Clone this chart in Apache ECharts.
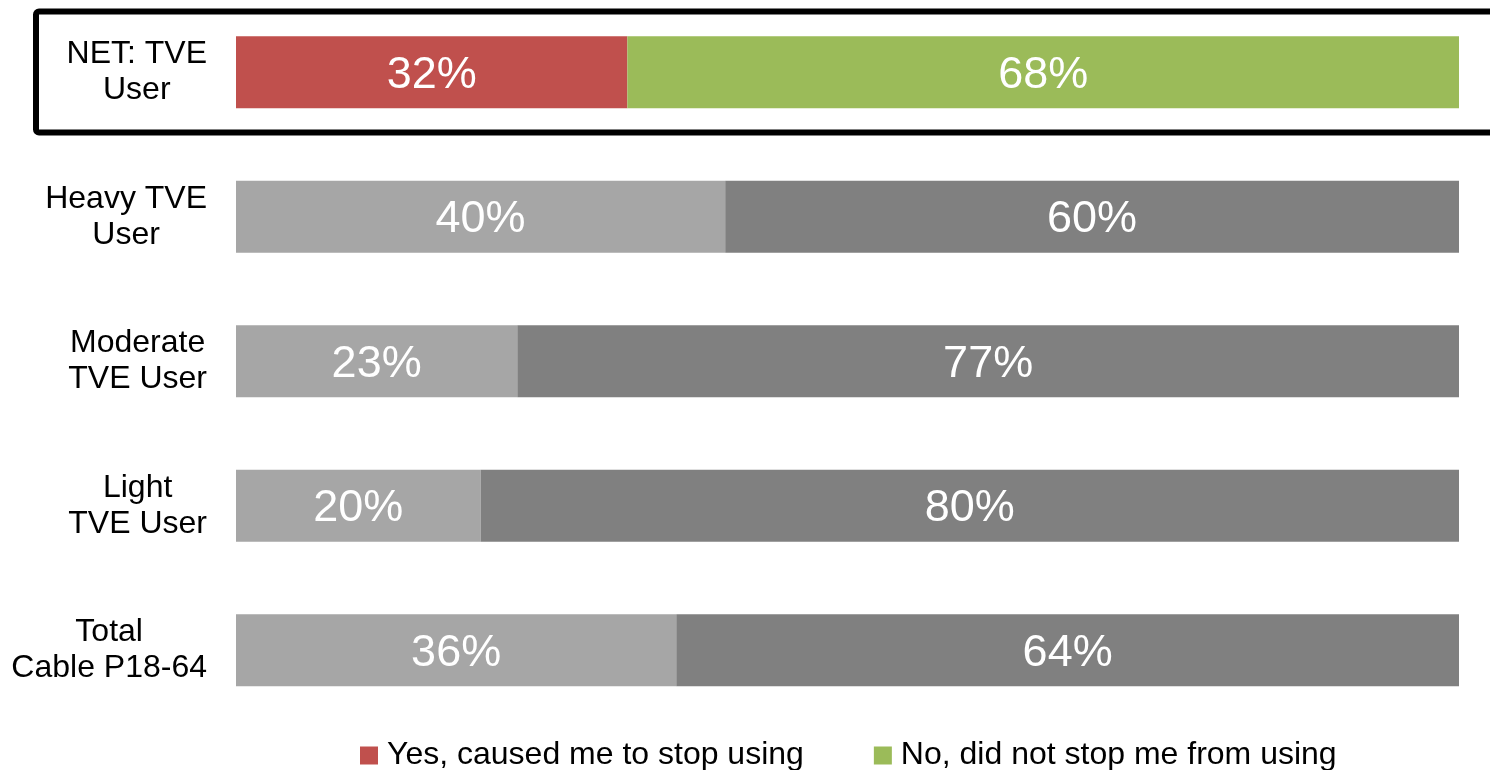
<!DOCTYPE html>
<html>
<head>
<meta charset="utf-8">
<title>TVE usage</title>
<script src="https://cdn.jsdelivr.net/npm/echarts@6/dist/echarts.min.js"></script>
<style>
  html, body { margin: 0; padding: 0; background: #fff; }
  #chart { width: 1490px; height: 770px; }
</style>
</head>
<body>
<div id="chart"></div>
<script>
// Segments of respondents, top to bottom
const categories = [
  'NET: TVE\nUser',
  'Heavy TVE\nUser',
  'Moderate\nTVE User',
  'Light\nTVE User',
  'Total\nCable P18-64'
];
const seriesNames = ['Yes, caused me to stop using', 'No, did not stop me from using'];
const yesValues = [32, 40, 23, 20, 36];
const noValues = [68, 60, 77, 80, 64];

// Highlighted row uses series colours, the rest are grey
const yesColor = '#C0504D';
const noColor = '#9BBB59';
const yesGrey = '#A6A6A6';
const noGrey = '#808080';

const FONT = "'Liberation Sans', Arial, Helvetica, sans-serif";

function toData(values, base, grey) {
  return values.map((v, i) => ({
    value: v,
    itemStyle: { color: i === 0 ? base : grey }
  }));
}

const labelStyle = {
  show: true,
  position: 'inside',
  offset: [0, 3],
  color: '#fff',
  fontSize: 45,
  fontFamily: FONT,
  formatter: p => p.value + '%'
};

const chart = echarts.init(document.getElementById('chart'), null, { renderer: 'canvas' });
chart.setOption({
  animation: false,
  backgroundColor: '#fff',
  grid: { left: 236, right: 31, top: 0, bottom: 47.5, containLabel: false },
  xAxis: {
    type: 'value', min: 0, max: 100, show: false
  },
  yAxis: {
    type: 'category',
    inverse: true,
    data: categories,
    axisLine: { show: false },
    axisTick: { show: false },
    splitLine: { show: false },
    axisLabel: {
      margin: 29,
      formatter: v => v.split('\n').map(l => '{c|' + l + '}').join('\n'),
      rich: {
        c: { align: 'center', fontSize: 32, lineHeight: 36, color: '#000', fontFamily: FONT }
      }
    }
  },
  legend: {
    data: seriesNames,
    left: 360,
    top: 739.5,
    padding: 0,
    icon: 'rect',
    itemWidth: 18,
    itemHeight: 18,
    itemGap: 70,
    textStyle: { fontSize: 32, lineHeight: 32, color: '#000', fontFamily: FONT, padding: [0, 0, 0, 4] }
  },
  graphic: [{
    type: 'rect',
    shape: { x: 36, y: 11.5, width: 1500, height: 121, r: 3 },
    style: { fill: null, stroke: '#000', lineWidth: 6 },
    silent: true,
    z: 10
  }],
  series: [
    {
      name: seriesNames[0],
      type: 'bar',
      stack: 'total',
      barWidth: 72,
      itemStyle: { color: yesColor },
      label: labelStyle,
      data: toData(yesValues, yesColor, yesGrey)
    },
    {
      name: seriesNames[1],
      type: 'bar',
      stack: 'total',
      barWidth: 72,
      itemStyle: { color: noColor },
      label: labelStyle,
      data: toData(noValues, noColor, noGrey)
    }
  ]
});
</script>
</body>
</html>
